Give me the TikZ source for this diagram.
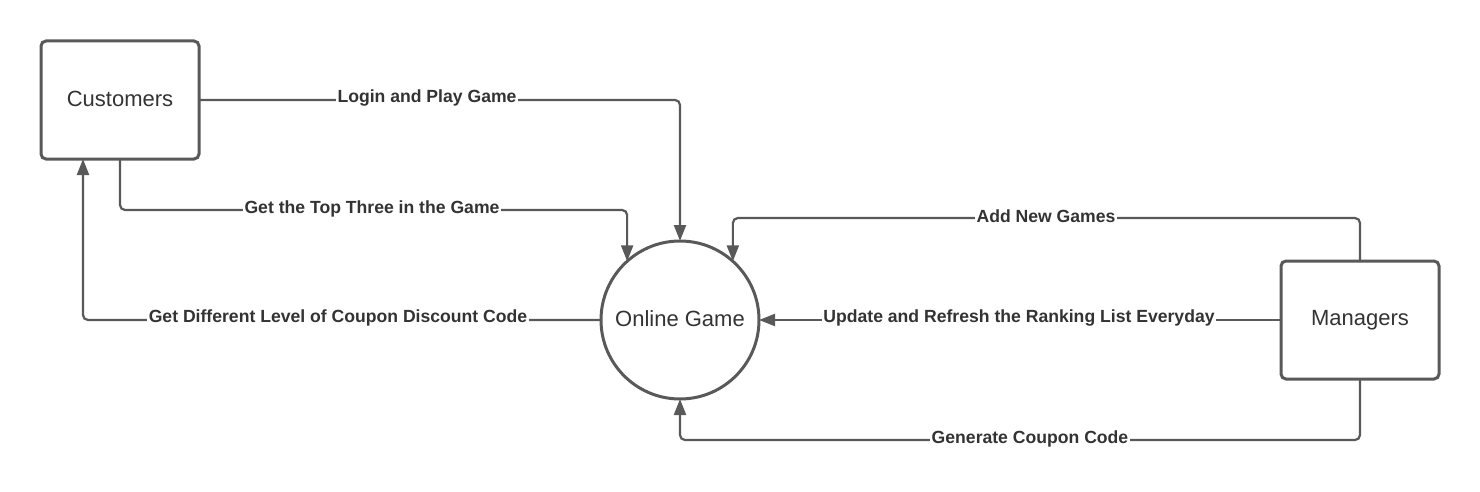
\documentclass[tikz,border=0pt]{standalone}
\usepackage{fontspec}
\setmainfont{Liberation Sans}
\usetikzlibrary{arrows.meta}
\definecolor{ln}{HTML}{595959}
\definecolor{tx}{HTML}{333333}
\newcommand{\upbit}[1]{\raisebox{2.5pt}{#1}}
\begin{document}
\begin{tikzpicture}[x=1pt,y=-1pt,
  entity/.style={draw=ln,line width=3pt,rounded corners=5pt,minimum width=158pt,minimum height=118pt,outer sep=0pt,font=\fontsize{22}{26}\selectfont,text=tx},
  proc/.style={draw=ln,line width=3pt,circle,minimum size=158pt,inner sep=0pt,outer sep=0pt,font=\fontsize{22}{26}\selectfont,text=tx},
  flow/.style={draw=ln,line width=2.2pt,rounded corners=5pt,-{Triangle[length=16pt,width=12pt]}},
  lbl/.style={fill=white,inner xsep=1.5pt,inner ysep=1pt,font=\bfseries\fontsize{17.6}{20}\selectfont,text=tx}]
\useasboundingbox (0,0) rectangle (1480,492);
\node[entity] (cust) at (120,100) {\upbit{Customers}};
\node[proc] (game) at (680,320) {\upbit{Online Game}};
\node[entity] (mgr) at (1360,320) {\upbit{Managers}};
% 1
\draw[flow] (cust.east) -- (cust.east -| game.north) -- (game.north);
\node[lbl] (l1) at (427,98) {Login and Play Game};
% 2
\draw[flow] (cust.south) -- (cust.south |- 0,210) -- (game.132.5 |- 0,210) -- (game.132.5);
\node[lbl] (l2) at (372,209) {Get the Top Three in the Game};
% 3
\draw[flow] (game.west) -- (83,320) -- (cust.south -| 83,0);
\node[lbl] (l3) at (338,318) {Get Different Level of Coupon Discount Code};
% 4
\draw[flow] (mgr.north) -- (mgr.north |- 0,218) -- (game.48.5 |- 0,218) -- (game.48.5);
\node[lbl] (l4) at (1046,216) {Add New Games};
% 5
\draw[flow] (mgr.west) -- (game.east);
\node[lbl] (l5) at (1019,318) {Update and Refresh the Ranking List Everyday};
% 6
\draw[flow] (mgr.south) -- (mgr.south |- 0,440) -- (game.south |- 0,440) -- (game.south);
\node[lbl] (l6) at (1030,439) {Generate Coupon Code};
\end{tikzpicture}
\end{document}
